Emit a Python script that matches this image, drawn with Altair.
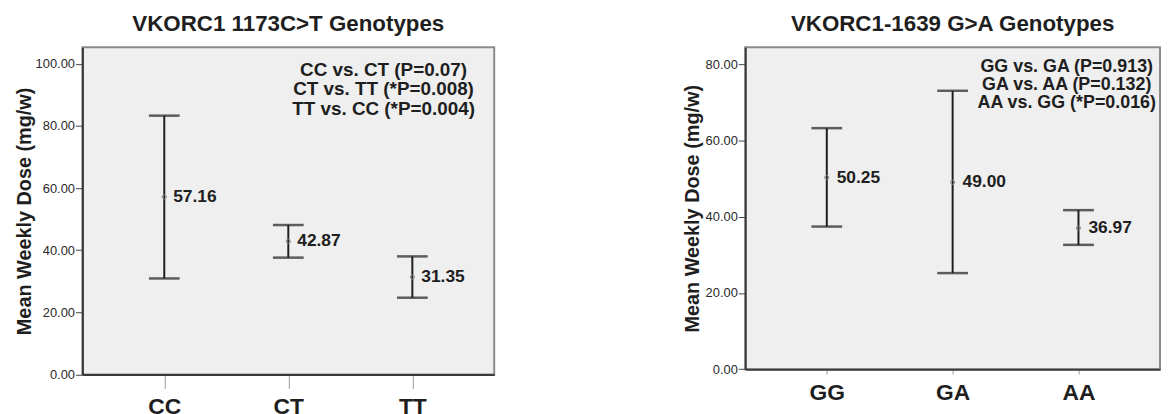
import altair as alt
import pandas as pd

# ---- data ----
left_cats = ["CC", "CT", "TT"]
left_mean = [57.16, 42.87, 31.35]
left_lower = [30.9, 37.6, 24.7]
left_upper = [83.3, 48.1, 38.0]
left_title = "VKORC1 1173C>T Genotypes"
left_note = ["CC vs. CT (P=0.07)", "CT vs. TT (*P=0.008)", "TT vs. CC (*P=0.004)"]

right_cats = ["GG", "GA", "AA"]
right_mean = [50.25, 49.00, 36.97]
right_lower = [37.4, 25.2, 32.6]
right_upper = [63.2, 73.0, 41.7]
right_title = "VKORC1-1639 G>A Genotypes"
right_note = ["GG vs. GA (P=0.913)", "GA vs. AA (P=0.132)", "AA vs. GG (*P=0.016)"]

y_title = "Mean Weekly Dose (mg/w)"
left_ticks = [0, 20, 40, 60, 80, 100]
right_ticks = [0, 20, 40, 60, 80]

FONT = "Liberation Sans"
INK = "#1e1e1e"


def panel(cats, mean, lower, upper, title, note, ticks, ymax, width, height,
          xtick, xpad, xpadding, note_x, note_y, note_lh, note_fs, ytp, label_dx):
    df = pd.DataFrame({"g": cats, "mean": mean, "lo": lower, "hi": upper})
    x = alt.X("g:N", sort=cats, title=None,
              scale=alt.Scale(type="point", padding=xpadding),
              axis=alt.Axis(labelAngle=0, labelFontSize=23, labelFontWeight="bold",
                            labelColor=INK, labelFont=FONT, tickSize=xtick,
                            tickColor="#9a9a9a", tickWidth=1, labelPadding=xpad,
                            domainColor="#3a3a3a", domainWidth=2))
    yscale = alt.Scale(domain=[0, ymax], zero=True, nice=False)
    yaxis = alt.Axis(values=ticks, format=".2f", labelFontSize=13, labelColor="#2a2a2a",
                     labelFont=FONT, tickSize=7, tickColor="#444", tickWidth=1,
                     labelPadding=1, domainColor="#3a3a3a", domainWidth=2, grid=False,
                     title=y_title, titleFontSize=20, titleFont=FONT,
                     titleFontWeight="bold", titleColor=INK, titlePadding=ytp)
    base = alt.Chart(df)
    rule = base.mark_rule(color=INK, strokeWidth=2).encode(
        x=x, y=alt.Y("lo:Q", scale=yscale, axis=yaxis), y2="hi:Q")
    cap_lo = base.mark_tick(color=INK, thickness=2.5, size=31, orient="horizontal").encode(
        x=alt.X("g:N", sort=cats), y=alt.Y("lo:Q"))
    cap_hi = base.mark_tick(color=INK, thickness=2.5, size=31, orient="horizontal").encode(
        x=alt.X("g:N", sort=cats), y=alt.Y("hi:Q"))
    pts = base.mark_point(shape="circle", size=18, color="#8a8a8a", strokeWidth=1,
                          filled=False, opacity=1).encode(
        x=alt.X("g:N", sort=cats), y=alt.Y("mean:Q"))
    lbl = base.mark_text(align="left", baseline="middle", dx=label_dx, fontSize=17.5,
                         fontWeight="bold", font=FONT, color=INK).encode(
        x=alt.X("g:N", sort=cats), y=alt.Y("mean:Q"),
        text=alt.Text("mean:Q", format=".2f"))
    ann = alt.Chart(pd.DataFrame({"k": [0]})).mark_text(
        text=note, align="center", baseline="alphabetic", fontSize=note_fs,
        fontWeight="bold", font=FONT, color=INK, lineHeight=note_lh).encode(
        x=alt.value(note_x), y=alt.value(note_y))
    return alt.layer(rule, cap_lo, cap_hi, pts, lbl, ann).properties(
        width=width, height=height,
        title=alt.TitleParams(title, fontSize=22.5, font=FONT, fontWeight="bold",
                              color=INK, offset=12, anchor="middle"))


left = panel(left_cats, left_mean, left_lower, left_upper, left_title, left_note,
             left_ticks, 105.3, 415, 329.7, 14, 7, 0.66,
             303.5, 28.7, 19.8, 19, 1, 9)
right = panel(right_cats, right_mean, right_lower, right_upper, right_title, right_note,
              right_ticks, 84.4, 418, 324.4, 5, 8, 0.648,
              324, 24.7, 18, 18, 3, 10)

chart = alt.hconcat(left, right, spacing=253, bounds="flush").properties(
    background="white",
    padding={"left": 5, "top": 2, "right": 0, "bottom": 0},
).configure_view(
    fill="#efefef", stroke="#8c8c8c", strokeWidth=2
)

chart.save("out.html", embed_options={"renderer": "svg", "actions": False})
